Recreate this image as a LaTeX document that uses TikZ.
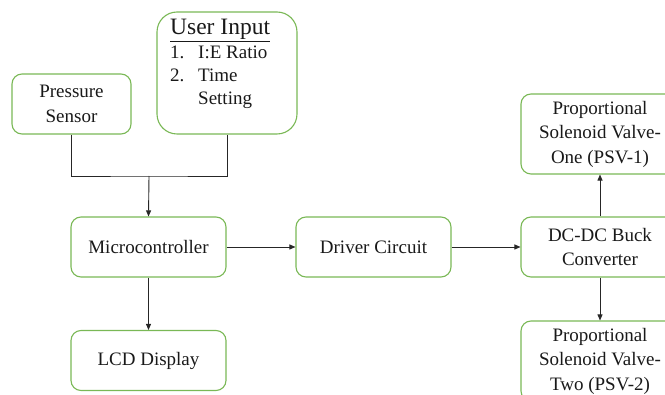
\documentclass[tikz,border=0pt]{standalone}
\usepackage{fontspec}
\setmainfont{Liberation Serif}
\usetikzlibrary{arrows.meta}
\definecolor{boxgreen}{RGB}{122,184,86}
\definecolor{txt}{RGB}{25,25,25}

\begin{document}
\begin{tikzpicture}[x=1pt,y=-1pt]
\tikzstyle{every node}+=[inner sep=0pt,text=txt,font=\fontsize{19}{24.5}\selectfont]
\tikzstyle{box}=[draw=boxgreen,line width=1.1pt,rounded corners=10pt,align=center,minimum width=155pt,minimum height=60pt]
\tikzstyle{link}=[draw=black!85,line width=0.9pt,-{Triangle[length=6pt,width=5pt]}]
\path[use as bounding box] (0,0) rectangle (665,395);
\clip (0,0) rectangle (665,395);
\node[box,minimum width=119pt] (press) at (71.5,104) {Pressure\\Sensor};
\node[box,minimum width=140pt,minimum height=122pt,rounded corners=20pt] (user) at (227,73) {};
\node[anchor=base west] (title) at (170,35) {\fontsize{23.5}{28}\selectfont\underline{User Input}};
\node[anchor=base west,align=left,font=\fontsize{19}{23}\selectfont] (items) at (170,105) {\makebox[28pt][l]{1.}I:E Ratio\\\makebox[28pt][l]{2.}Time\\\hspace*{28pt}Setting};
\coordinate (join) at (149,176);
\node[box] (mcu) at (148.5,247) {Microcontroller};
\node[box] (lcd) at (148.5,360.5) {LCD Display};
\node[box] (driver) at (373.5,247) {Driver Circuit};
\node[box,minimum width=158pt] (buck) at (600,247) {DC-DC Buck\\Converter};
\node[box,minimum width=158pt,minimum height=80pt] (psv1) at (600,134) {Proportional\\Solenoid Valve-\\One (PSV-1)};
\node[box,minimum width=158pt,minimum height=80pt] (psv2) at (600,361) {Proportional\\Solenoid Valve-\\Two (PSV-2)};
\draw[draw=black!85,line width=0.9pt] (press.south) |- (join) -| (user.south);
\draw[link] (join) -- (mcu.north);
\draw[link] (mcu) -- (driver);
\draw[link] (driver) -- (buck);
\draw[link] (mcu) -- (lcd);
\draw[link] (buck) -- (psv1);
\draw[link] (buck) -- (psv2);
\end{tikzpicture}
\end{document}
